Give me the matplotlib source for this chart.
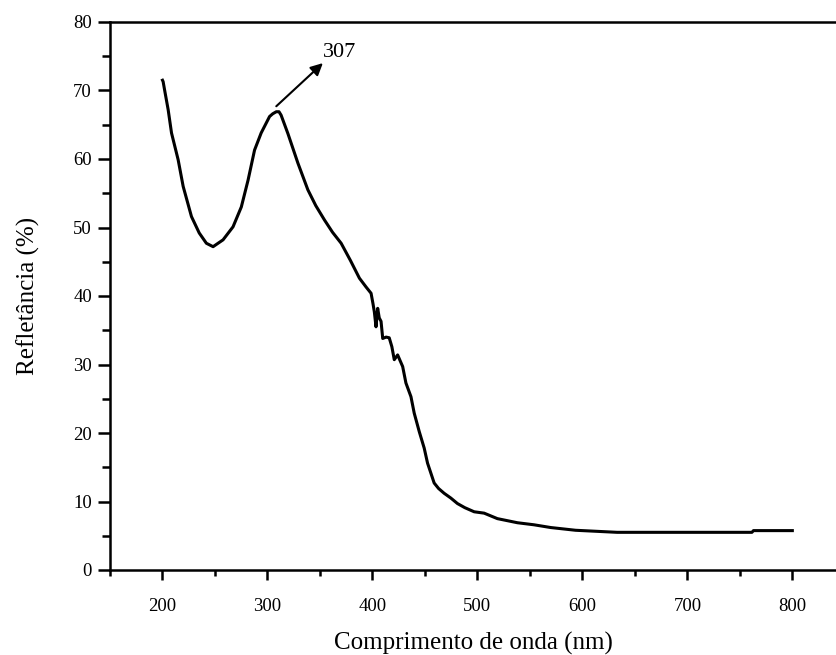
import matplotlib
matplotlib.use("Agg")
import matplotlib.pyplot as plt
from matplotlib.ticker import MultipleLocator

plt.rcParams['font.family'] = ['Liberation Serif', 'DejaVu Serif']

wavelength = [200, 200.6, 202.1, 205.4, 208.6, 214.9, 219.7, 227.6, 235, 241.8, 248.2,
              257.7, 267.2, 275.1, 281.5, 287.7, 294, 302, 305, 308.4, 311, 313, 319.5,
              329, 338.5, 346, 354.3, 362, 370.2, 379, 387.6, 394, 398.7, 400.5, 401.8,
              403.4, 405, 406.5, 408.2, 409.8, 413, 416, 418.5, 420.8, 424, 428.8, 431.9,
              436.7, 439.8, 444.6, 449.3, 452.5, 458.8, 463, 468.3, 474.7, 481, 488,
              496.9, 506.4, 519, 525.4, 538.1, 553.9, 569.8, 593.5, 633.1, 700, 761.5,
              763, 800]
reflectance = [71.5, 71.3, 70.0, 67.2, 63.8, 59.9, 56.0, 51.6, 49.2, 47.7, 47.2,
               48.2, 50.1, 53.0, 56.9, 61.3, 63.8, 66.2, 66.6, 66.9, 66.9, 66.4, 63.7,
               59.4, 55.5, 53.2, 51.1, 49.3, 47.7, 45.2, 42.6, 41.3, 40.4, 38.9, 37.7,
               35.5, 38.2, 36.8, 36.3, 33.8, 34.0, 33.9, 32.6, 30.7, 31.4, 29.7, 27.3,
               25.3, 22.9, 20.2, 17.8, 15.6, 12.7, 11.9, 11.2, 10.5, 9.7, 9.1,
               8.5, 8.3, 7.5, 7.3, 6.9, 6.6, 6.2, 5.8, 5.5, 5.5, 5.5,
               5.75, 5.75]

peak_label = "307"
peak_xy = (308.4, 67.7)
label_xy = (352.8, 74.0)

fig = plt.figure(figsize=(8.36, 6.55), dpi=100)
ax = fig.add_axes([110/836, 85/655, 1 - 110/836, (570-22)/655])

ax.plot(wavelength, reflectance, color='black', lw=2.2)

ax.set_xlim(150, 841.6)
ax.set_ylim(0, 80)
ax.xaxis.set_major_locator(MultipleLocator(100))
ax.xaxis.set_minor_locator(MultipleLocator(50))
ax.yaxis.set_major_locator(MultipleLocator(10))
ax.yaxis.set_minor_locator(MultipleLocator(5))

ax.spines['right'].set_visible(False)
for s in ['left', 'bottom', 'top']:
    ax.spines[s].set_linewidth(1.8)

ax.tick_params(axis='x', which='major', direction='out', length=7.5, width=1.8,
               labelsize=13.5, pad=13)
ax.tick_params(axis='x', which='minor', direction='out', length=4.5, width=1.8)
ax.tick_params(axis='y', which='major', direction='out', length=9, width=1.8,
               labelsize=13.5, pad=4)
ax.tick_params(axis='y', which='minor', direction='out', length=5.5, width=1.8)
ax.tick_params(top=False, right=False, which='both')

ax.set_xlabel('Comprimento de onda (nm)', fontsize=18, labelpad=12)
ax.set_ylabel('Refletância (%)', fontsize=18, labelpad=24)

ax.annotate('', xy=label_xy, xytext=peak_xy,
            arrowprops=dict(arrowstyle='-|>', color='black', lw=1.5,
                            mutation_scale=18, shrinkA=0, shrinkB=0))
ax.text(label_xy[0] + 0.5, label_xy[1] + 1.6, peak_label, fontsize=16,
        ha='left', va='center')

fig.savefig('out.png', dpi=100)
